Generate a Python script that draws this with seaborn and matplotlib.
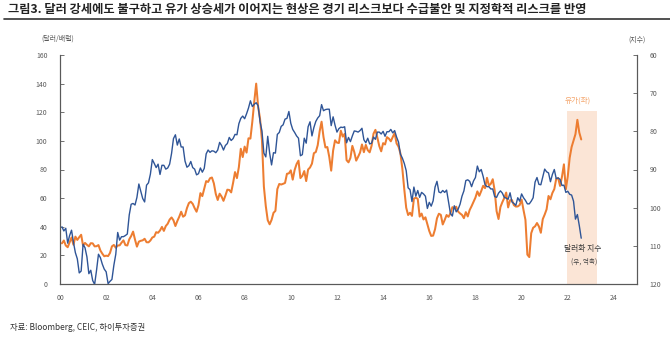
import matplotlib
matplotlib.use("Agg")
import matplotlib.pyplot as plt
import matplotlib.lines as mlines
import numpy as np
import pandas as pd
import seaborn as sns

# ---- data: month-end values, Jan 2000 - Jul 2022 ----
oil_price = [  # 유가 (달러/배럴)
    28.4, 30.4, 26.9, 25.7, 29.0, 32.5, 27.4, 33.1, 30.8, 32.7, 34.4, 26.8,
    28.7, 27.4, 26.3, 28.5, 28.4, 26.3, 26.4, 27.2, 23.4, 21.2, 19.4, 19.8,
    19.5, 21.7, 26.3, 27.3, 25.3, 26.9, 27.0, 28.9, 30.5, 27.2, 26.9, 31.2,
    33.5, 36.6, 31.0, 26.1, 29.6, 30.2, 30.5, 31.6, 29.2, 29.1, 30.4, 32.5,
    33.1, 36.2, 35.8, 37.4, 39.9, 37.1, 40.5, 42.1, 45.0, 46.5, 44.5, 40.5,
    44.0, 47.0, 50.5, 47.0, 48.0, 53.0, 56.5, 57.5, 56.0, 53.0, 50.5, 55.0,
    63.5, 61.4, 66.6, 71.9, 71.3, 73.9, 74.4, 70.3, 62.9, 58.7, 63.1, 61.1,
    58.1, 61.8, 65.9, 65.7, 64.0, 70.7, 78.2, 74.0, 81.7, 94.5, 88.7, 96.0,
    91.8, 101.8, 101.6, 113.5, 127.4, 140.0, 124.1, 115.5, 100.6, 68.1, 54.4, 44.6,
    41.7, 44.8, 49.7, 51.1, 66.3, 69.9, 69.5, 70.0, 70.6, 77.0, 77.3, 79.4,
    72.9, 79.7, 83.8, 86.2, 74.0, 75.6, 78.9, 71.9, 80.0, 81.4, 84.1, 91.4,
    92.2, 97.0, 106.7, 113.4, 102.7, 95.4, 95.7, 88.8, 79.2, 93.2, 100.4, 98.8,
    98.5, 107.1, 103.0, 104.9, 86.5, 85.0, 88.1, 96.5, 92.2, 86.2, 88.9, 91.8,
    97.5, 92.1, 97.2, 93.5, 92.0, 96.6, 105.0, 107.7, 102.3, 96.4, 92.7, 98.4,
    97.5, 102.6, 101.6, 99.7, 102.7, 105.4, 98.2, 96.0, 91.2, 80.5, 66.2, 53.3,
    48.2, 49.8, 47.6, 59.6, 60.3, 59.5, 47.1, 49.2, 45.1, 46.6, 41.7, 37.0,
    33.6, 33.8, 38.3, 45.9, 49.1, 48.3, 41.6, 44.7, 48.2, 46.9, 49.4, 53.7,
    52.8, 54.0, 50.6, 49.3, 48.3, 46.0, 50.2, 47.2, 51.7, 54.4, 57.4, 60.4,
    64.7, 61.6, 64.9, 68.6, 67.0, 74.2, 68.8, 70.0, 73.2, 65.3, 50.9, 45.4,
    53.8, 57.2, 60.1, 63.9, 53.5, 58.5, 58.6, 55.1, 54.1, 54.2, 55.2, 59.0,
    51.6, 44.8, 20.5, 18.8, 35.5, 39.3, 40.3, 42.6, 40.2, 35.8, 45.3, 48.5,
    52.2, 61.5, 59.2, 63.6, 66.3, 73.5, 74.0, 68.5, 75.0, 83.6, 66.2, 75.2,
    88.2, 95.7, 100.3, 104.7, 114.7, 105.8, 101.0,
]

dollar_index = [  # 달러화 지수
    105.0, 106.1, 105.4, 109.3, 107.3, 105.9, 109.1, 111.8, 113.4, 117.1, 116.6, 109.6,
    110.5, 112.9, 117.3, 116.4, 119.1, 120.1, 116.4, 112.2, 113.1, 114.8, 116.1, 116.8,
    119.9, 119.3, 118.8, 115.1, 112.2, 106.5, 108.5, 107.6, 107.6, 107.3, 106.9, 101.9,
    99.1, 98.9, 99.3, 97.3, 93.8, 95.7, 97.6, 98.5, 94.1, 93.5, 91.2, 87.4,
    88.4, 89.5, 88.6, 91.3, 88.9, 88.9, 89.9, 89.6, 88.6, 85.8, 81.9, 80.9,
    83.6, 82.0, 84.1, 84.1, 87.8, 89.4, 89.0, 87.9, 89.5, 89.9, 91.4, 91.1,
    89.6, 90.7, 89.7, 85.9, 84.9, 85.5, 85.1, 85.2, 85.6, 84.9, 82.9, 83.7,
    84.9, 83.7, 83.2, 81.6, 82.4, 81.9, 80.8, 80.9, 78.0, 76.6, 76.0, 76.7,
    75.4, 73.9, 72.0, 73.5, 72.9, 72.5, 73.3, 77.4, 79.9, 85.7, 86.7, 81.3,
    85.7, 88.8, 85.6, 85.7, 80.8, 80.3, 78.7, 78.3, 76.8, 76.6, 74.8, 77.9,
    79.5, 80.3, 81.2, 81.8, 86.4, 86.1, 81.8, 83.1, 78.8, 77.5, 81.2, 79.0,
    77.4, 76.5, 75.9, 73.0, 74.6, 74.3, 74.2, 74.2, 78.5, 76.2, 78.4, 80.2,
    79.3, 78.9, 79.0, 78.8, 83.0, 81.6, 82.7, 81.2, 79.9, 80.0, 80.2, 79.8,
    79.2, 82.2, 83.0, 81.8, 83.3, 83.1, 81.5, 82.1, 80.2, 80.2, 80.7, 80.0,
    81.3, 80.1, 80.1, 79.5, 80.4, 79.8, 81.5, 82.8, 86.0, 87.0, 88.4, 90.3,
    94.8, 95.3, 98.4, 94.6, 97.0, 95.5, 97.3, 96.0, 96.4, 97.0, 100.2, 98.6,
    99.6, 98.2, 94.6, 93.1, 95.9, 96.1, 95.5, 96.0, 95.4, 98.5, 101.5, 102.2,
    99.5, 101.1, 100.4, 99.1, 97.0, 95.6, 92.9, 92.7, 93.1, 94.5, 93.0, 92.1,
    89.1, 90.6, 90.0, 91.8, 94.0, 94.5, 94.5, 95.1, 95.1, 97.1, 97.3, 96.2,
    95.6, 96.2, 97.3, 97.5, 97.8, 96.1, 98.5, 98.9, 99.4, 97.4, 98.3, 96.4,
    97.4, 98.1, 99.0, 99.0, 98.3, 97.4, 93.3, 92.1, 93.9, 94.0, 91.9, 89.9,
    90.6, 90.9, 93.2, 91.3, 90.0, 92.4, 92.2, 92.6, 94.2, 94.1, 96.0, 95.7,
    96.5, 96.7, 98.3, 103.0, 101.8, 104.7, 108.0,
]

year_ticks = list(range(2000, 2025, 2))
year_labels = ["00", "02", "04", "06", "08", "10", "12", "14", "16", "18", "20", "22", "24"]
left_ticks = [0, 20, 40, 60, 80, 100, 120, 140, 160]
right_ticks = [60, 70, 80, 90, 100, 110, 120]

# shaded recent period (2022~) on the oil axis
highlight_start, highlight_end, highlight_top = 2021.95, 2023.25, 121

# ---- frame ----
dates = pd.date_range("2000-01-31", periods=len(oil_price), freq="ME")
df = pd.DataFrame({
    "t": dates.year + dates.month / 12.0,
    "oil": oil_price,
    "dollar": dollar_index,
})

sns.set_style("white")
plt.rcParams["font.family"] = ["Noto Sans CJK KR", "DejaVu Sans"]

W, H = 670, 338
fig = plt.figure(figsize=(W / 100, H / 100), dpi=100)
ax = fig.add_axes([60 / W, 1 - 284 / H, 577 / W, 229 / H])
ax2 = ax.twinx()

orange = "#ED7D31"
navy = "#2F5597"
grey = "#595959"

ax.fill_between([highlight_start, highlight_end], 0, highlight_top,
                color="#FBE5D6", lw=0, zorder=0)
sns.lineplot(data=df, x="t", y="oil", ax=ax, color=orange, lw=1.45, zorder=2)
sns.lineplot(data=df, x="t", y="dollar", ax=ax2, color=navy, lw=1.0, zorder=3)

ax.set_xlim(2000, 2025)
ax.set_ylim(0, 160)
ax2.set_ylim(120, 60)

ax.set_xticks(year_ticks)
ax.set_xticklabels(year_labels)
ax.set_yticks(left_ticks)
ax2.set_yticks(right_ticks)
for a in (ax, ax2):
    a.set_xlabel("")
    a.set_ylabel("")
    a.spines["top"].set_visible(False)
    for s in ("left", "right", "bottom"):
        a.spines[s].set_color(grey)
        a.spines[s].set_linewidth(0.8)

ax.tick_params(axis="x", direction="in", length=3, width=0.6, color=grey,
               labelsize=5, labelcolor=grey, pad=7)
ax.tick_params(axis="y", direction="in", length=3, width=0.6, color=grey,
               labelsize=5, labelcolor=grey, pad=9)
ax2.tick_params(axis="y", direction="in", length=3, width=0.6, color=grey,
                labelsize=5, labelcolor=grey, pad=9)

# ---- texts ----
fig.text(8 / W, 1 - 9 / H, "그림3. 달러 강세에도 불구하고 유가 상승세가 이어지는 현상은 경기 리스크보다 수급불안 및 지정학적 리스크를 반영",
         fontsize=8.8, fontweight="bold", color="#222222", ha="left", va="center")
fig.add_artist(mlines.Line2D([4 / W, 1.0], [1 - 18.5 / H, 1 - 18.5 / H],
                             color="#333333", lw=1.2, transform=fig.transFigure))

fig.text(58 / W, 1 - 39 / H, "(달러/배럴)", fontsize=5, color=grey, ha="center", va="center")
fig.text(637 / W, 1 - 40 / H, "(지수)", fontsize=5, color=grey, ha="center", va="center")

ax.text(2022.45, 128, "유가(좌)", fontsize=5.5, color="#F4A46A", ha="center", va="center")
ax.text(2022.65, 24.5, "달러화 지수", fontsize=5.6, color="#333333", ha="center", va="center")
ax.text(2022.7, 15.5, "(우, 역축)", fontsize=4.8, color="#444444", ha="center", va="center")

fig.text(10 / W, 1 - 327 / H, "자료: Bloomberg, CEIC, 하이투자증권",
         fontsize=6, color="#333333", ha="left", va="center")

fig.savefig("out.png", dpi=100)
